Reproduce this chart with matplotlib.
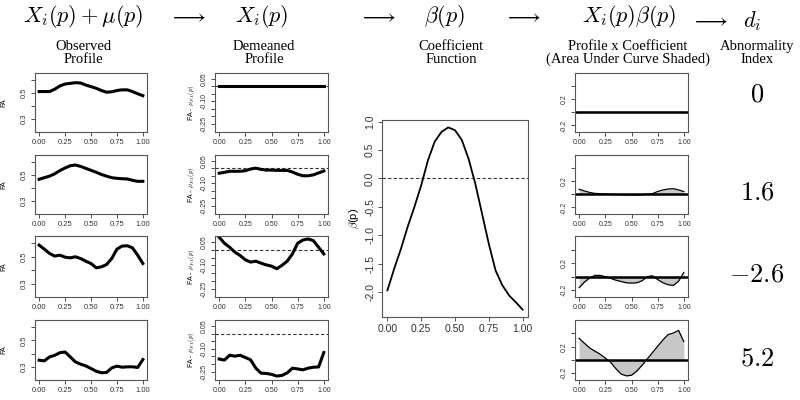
import matplotlib
matplotlib.use("Agg")
import matplotlib.pyplot as plt
import numpy as np

plt.rcParams['mathtext.fontset'] = 'cm'
plt.rcParams['font.family'] = 'Liberation Sans'

# grid of profile positions
p = np.linspace(0, 1, 21)

# observed FA profiles (column 1)
obs1 = [0.512, 0.512, 0.512, 0.530, 0.555, 0.570, 0.575, 0.580, 0.578, 0.562, 0.550,
        0.537, 0.520, 0.507, 0.510, 0.520, 0.525, 0.525, 0.512, 0.495, 0.480]
obs2 = [0.468, 0.480, 0.492, 0.510, 0.535, 0.555, 0.572, 0.578, 0.567, 0.552, 0.537,
        0.522, 0.505, 0.492, 0.480, 0.475, 0.472, 0.470, 0.460, 0.452, 0.452]
obs3 = [0.587, 0.557, 0.525, 0.505, 0.512, 0.497, 0.492, 0.500, 0.487, 0.467, 0.450,
        0.418, 0.425, 0.442, 0.487, 0.557, 0.580, 0.582, 0.567, 0.512, 0.450]
obs4 = [0.350, 0.345, 0.375, 0.387, 0.407, 0.412, 0.375, 0.337, 0.320, 0.307, 0.287,
        0.267, 0.255, 0.257, 0.292, 0.305, 0.297, 0.300, 0.300, 0.295, 0.355]

# demeaned profiles (column 2)
dem1 = [0.0] * 21
dem2 = [-0.032, -0.026, -0.019, -0.019, -0.019, -0.015, -0.004, 0.002, -0.006, -0.011, -0.011,
        -0.013, -0.013, -0.013, -0.024, -0.039, -0.049, -0.049, -0.043, -0.030, -0.017]
dem3 = [0.082, 0.043, 0.017, -0.015, -0.036, -0.064, -0.079, -0.073, -0.086, -0.097, -0.105,
        -0.122, -0.100, -0.073, -0.026, 0.043, 0.064, 0.071, 0.060, 0.017, -0.026]
dem4 = [-0.167, -0.174, -0.142, -0.148, -0.142, -0.157, -0.172, -0.227, -0.260, -0.262, -0.268,
        -0.279, -0.275, -0.258, -0.227, -0.232, -0.238, -0.227, -0.221, -0.219, -0.124]

# coefficient function (column 3)
beta = [-1.97, -1.59, -1.24, -0.85, -0.50, -0.12, 0.32, 0.65, 0.82, 0.90, 0.85,
        0.68, 0.35, -0.09, -0.62, -1.15, -1.62, -1.88, -2.06, -2.18, -2.31]

# profile x coefficient (column 4)
prod1 = [0.0] * 21
prod2 = [0.076, 0.052, 0.029, 0.014, 0.010, 0.005, 0.000, -0.003, -0.005, -0.008, -0.010,
         -0.010, -0.005, 0.000, 0.010, 0.043, 0.067, 0.081, 0.086, 0.067, 0.043]
prod3 = [-0.162, -0.081, -0.019, 0.019, 0.019, 0.000, -0.024, -0.052, -0.071, -0.090, -0.095,
         -0.090, -0.062, 0.000, 0.014, -0.043, -0.090, -0.119, -0.129, -0.067, 0.062]
prod4 = [0.324, 0.252, 0.181, 0.133, 0.086, 0.029, -0.033, -0.129, -0.210, -0.238, -0.229,
         -0.167, -0.081, 0.014, 0.110, 0.205, 0.300, 0.381, 0.405, 0.443, 0.276]

index_vals = ['0', '1.6', '-2.6', '5.2']

observed = [obs1, obs2, obs3, obs4]
demeaned = [dem1, dem2, dem3, dem4]
products = [prod1, prod2, prod3, prod4]

W, H = 800, 400
fig = plt.figure(figsize=(8, 4), dpi=100)


def px_axes(l, t, r, b):
    return fig.add_axes([l / W, 1 - b / H, (r - l) / W, (b - t) / H])


def r_style(ax, size=5.5):
    for s in ax.spines.values():
        s.set_color('#555555')
        s.set_linewidth(0.8)
    ax.tick_params(direction='out', length=3, width=0.6, colors='#333333',
                   labelsize=size, pad=2)
    ax.set_xlim(-0.04, 1.04)
    ax.set_xticks([0, 0.25, 0.5, 0.75, 1.0])
    ax.set_xticklabels(['0.00', '0.25', '0.50', '0.75', '1.00'])
    for lbl in ax.get_yticklabels():
        lbl.set_rotation(90)
        lbl.set_va('center')


rows = [(73, 132), (155, 214), (236, 297), (320, 380)]
index_y = [95, 193, 275, 359]

for i, (t, b) in enumerate(rows):
    # observed
    ax = px_axes(35, t, 147, b)
    ax.plot(p, observed[i], color='black', lw=2.2)
    ax.set_ylim(0.2, 0.655)
    ax.set_yticks([0.3, 0.4, 0.5, 0.6])
    ax.set_yticklabels(['0.3', '', '0.5', ''])
    r_style(ax)
    ax.set_ylabel('FA', fontsize=5, labelpad=10)

    # demeaned
    ax = px_axes(215, t, 328, b)
    ax.axhline(0, color='#333333', lw=0.8, ls=(0, (3, 2)))
    ax.plot(p, demeaned[i], color='black', lw=2.2)
    ax.set_ylim(-0.305, 0.09)
    ax.set_yticks([0.05, 0.0, -0.05, -0.10, -0.15, -0.20, -0.25])
    ax.set_yticklabels(['0.05', '', '', '-0.10', '', '', '-0.25'])
    r_style(ax, 5)
    ax.set_ylabel(r'FA - $\mu_{FA}(p)$', fontsize=5, labelpad=3)

    # product with shaded area
    ax = px_axes(575, t, 688, b)
    ax.fill_between(p, products[i], 0, color='#c8c8c8', lw=0)
    ax.plot(p, products[i], color='black', lw=0.9)
    ax.axhline(0, color='black', lw=1.8)
    ax.set_ylim(-0.30, 0.60)
    ax.set_yticks([-0.2, 0.0, 0.2, 0.4])
    ax.set_yticklabels(['-0.2', '', '0.2', ''])
    r_style(ax, 5)

    # abnormality index
    fig.text(757 / W, 1 - index_y[i] / H, '$' + index_vals[i] + '$', fontsize=19,
             ha='center', va='center')

# coefficient function
ax = px_axes(382, 120, 528, 317)
ax.axhline(0, color='#333333', lw=0.8, ls=(0, (3, 2)))
ax.plot(p, beta, color='black', lw=1.3)
ax.set_ylim(-2.44, 1.03)
ax.set_yticks([1.0, 0.5, 0.0, -0.5, -1.0, -1.5, -2.0])
ax.set_yticklabels(['1.0', '0.5', '0.0', '-0.5', '-1.0', '-1.5', '-2.0'])
r_style(ax, 7.5)
ax.set_ylabel(r'$\beta$(p)', fontsize=8, labelpad=2)

# headers
heads = [(83, 16, r'$X_i(p) + \mu(p)$'), (262, 16, r'$X_i(p)$'), (444, 16, r'$\beta(p)$'),
         (629, 16, r'$X_i(p)\beta(p)$'), (752, 21, r'$d_i$')]
for x, y, s in heads:
    fig.text(x / W, 1 - y / H, s, fontsize=16, ha='center', va='center')
for x, y in [(188, 17), (378, 17), (523, 17), (710, 21)]:
    fig.text(x / W, 1 - y / H, r'$\longrightarrow$', fontsize=15, ha='center', va='center')

subs = [(83, 'Observed\nProfile'), (264, 'Demeaned\nProfile'), (451, 'Coefficient\nFunction'),
        (628, 'Profile x Coefficient\n(Area Under Curve Shaded)'), (757, 'Abnormality\nIndex')]
for x, s in subs:
    fig.text(x / W, 1 - 53 / H, s, fontsize=10.5, ha='center', va='center',
             family='Liberation Serif', linespacing=1.05)

fig.savefig('out.png', dpi=100)
